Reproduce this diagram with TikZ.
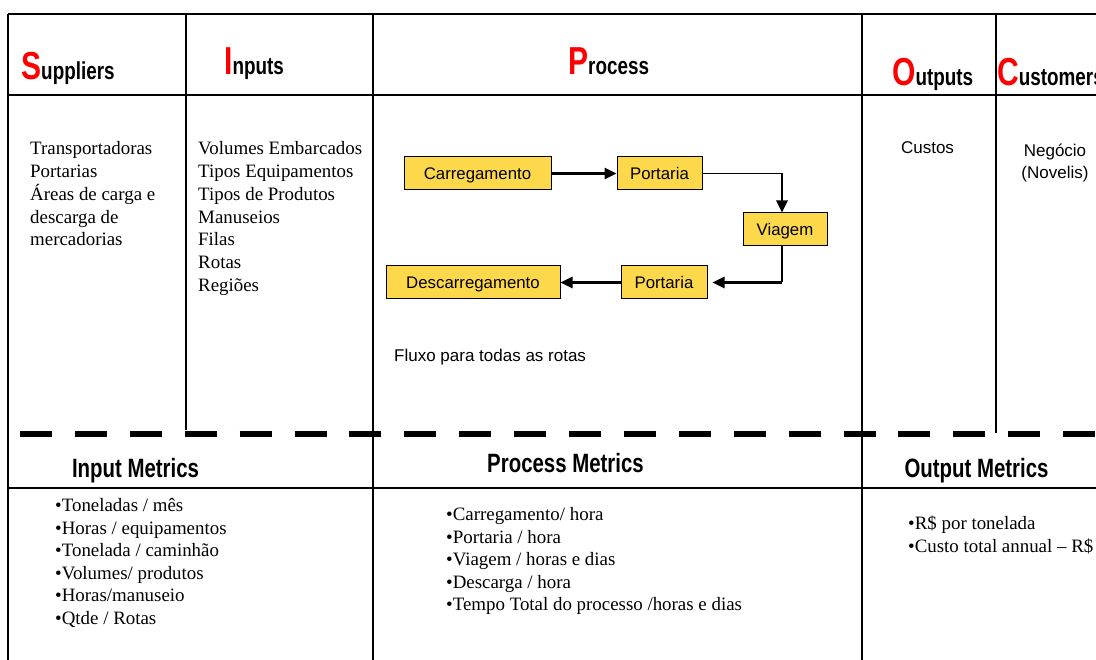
\documentclass[tikz,border=0pt]{standalone}
\usepackage{fontspec}
\setmainfont{Liberation Serif}
\newfontfamily\hdrfont{Liberation Sans}[FakeStretch=0.77]
\newfontfamily\helv{Liberation Sans}
\usetikzlibrary{arrows.meta}
\definecolor{stepyellow}{RGB}{253,216,74}
\definecolor{capred}{RGB}{255,0,0}

\tikzset{
  tableline/.style={line width=1.6pt, black},
  hdr/.style={anchor=base west, inner sep=0pt, font=\hdrfont\bfseries\fontsize{24.5}{24.5}\selectfont},
  metric/.style={anchor=base, inner sep=0pt, font=\hdrfont\bfseries\fontsize{26.5}{26.5}\selectfont},
  body/.style={anchor=base west, inner sep=0pt, font=\fontsize{18.9}{22.7}\selectfont},
  sans/.style={inner sep=0pt, font=\helv\fontsize{17}{22}\selectfont},
  stepbox/.style={draw=black, line width=1pt, fill=stepyellow, inner sep=0pt,
    minimum height=33pt, text height=12pt, text depth=0pt,
    font=\helv\fontsize{16.8}{16.8}\selectfont},
  flow/.style={line width=2.6pt, -{Triangle[length=12pt,width=11pt]}},
  thinflow/.style={line width=1.1pt},
}
\newcommand{\capletter}[1]{\textcolor{capred}{\fontsize{39}{39}\selectfont #1}}

\begin{document}
\begin{tikzpicture}[x=1pt, y=-1pt]
  \useasboundingbox (0,0) rectangle (1096,660);
  \clip (0,0) rectangle (1096,660);

  % SIPOC table frame
  \draw[tableline] (8,14) -- (1100,14);
  \draw[tableline] (8,95) -- (1100,95);
  \draw[tableline] (8,488) -- (1100,488);
  \draw[tableline] (8,14) -- (8,662);
  \draw[tableline] (186,14) -- (186,430);
  \draw[tableline] (373,14) -- (373,662);
  \draw[tableline] (862,14) -- (862,662);
  \draw[tableline] (996,14) -- (996,433);

  % separator between SIPOC and metrics
  \draw[line width=6pt, dash pattern=on 32pt off 22.9pt] (20,434) -- (1100,434);

  % column headers
  \node[hdr] (hS) at (21,80) {\capletter{S}uppliers};
  \node[hdr] (hI) at (224,75) {\capletter{I}nputs};
  \node[hdr] (hP) at (568,75) {\capletter{P}rocess};
  \node[hdr] (hO) at (892,86) {\capletter{O}utputs};
  \node[hdr] (hC) at (997,86) {\capletter{C}ustomers};

  % suppliers and inputs
  \foreach \t [count=\i from 0] in {{Transportadoras},{Portarias},{Áreas de carga e},{descarga de},{mercadorias}}
    \node[body] (sup\i) at (30,{155+22.7*\i}) {\t};
  \foreach \t [count=\i from 0] in {{Volumes Embarcados},{Tipos Equipamentos},{Tipos de Produtos},{Manuseios},{Filas},{Rotas},{Regiões}}
    \node[body] (inp\i) at (198,{155+22.7*\i}) {\t};

  % outputs and customers
  \node[sans, anchor=base] (custos) at (927.5,154) {Custos};
  \node[sans, anchor=base] (negocio) at (1055,157) {Negócio};
  \node[sans, anchor=base] (novelis) at (1055,179) {(Novelis)};

  % process flow
  \node[stepbox, minimum width=147pt] (carr) at (477.5,173.5) {Carregamento};
  \node[stepbox, minimum width=85pt] (port1) at (659.5,173.5) {Portaria};
  \node[stepbox, minimum width=84pt] (viag) at (785,229.5) {Viagem};
  \node[stepbox, minimum width=86pt] (port2) at (664,282.5) {Portaria};
  \node[stepbox, minimum width=174pt] (desc) at (473,282.5) {Descarregamento};
  \coordinate (c1) at (782,173.5);
  \coordinate (c2) at (782,282.5);
  \draw[flow] (carr.east) -- (port1.west);
  \draw[thinflow] (port1.east) -- (c1);
  \draw[flow] (c1) -- (c1 |- viag.north);
  \draw[thinflow] (c1 |- viag.south) -- (c2);
  \draw[flow] (c2) -- ([xshift=5pt]port2.east);
  \draw[flow] (port2.west) -- (desc.east);
  \node[sans, anchor=base west] (fluxo) at (394,362) {Fluxo para todas as rotas};

  % metrics headers
  \node[metric] (mI) at (135.5,477) {Input Metrics};
  \node[metric] (mP) at (565.5,472) {Process Metrics};
  \node[metric] (mO) at (976.5,477) {Output Metrics};

  % metrics lists
  \foreach \t [count=\i from 0] in {{•Toneladas / mês},{•Horas / equipamentos},{•Tonelada / caminhão},{•Volumes/ produtos},{•Horas/manuseio},{•Qtde / Rotas}}
    \node[body] (im\i) at (55,{511.5+22.6*\i}) {\t};
  \foreach \t [count=\i from 0] in {{•Carregamento/ hora},{•Portaria / hora},{•Viagem / horas e dias},{•Descarga / hora},{•Tempo Total do processo /horas e dias}}
    \node[body] (pm\i) at (446,{520.5+22.6*\i}) {\t};
  \foreach \t [count=\i from 0] in {{•R\$ por tonelada},{•Custo total annual – R\$}}
    \node[body] (om\i) at (908,{529.5+22.6*\i}) {\t};
\end{tikzpicture}
\end{document}
